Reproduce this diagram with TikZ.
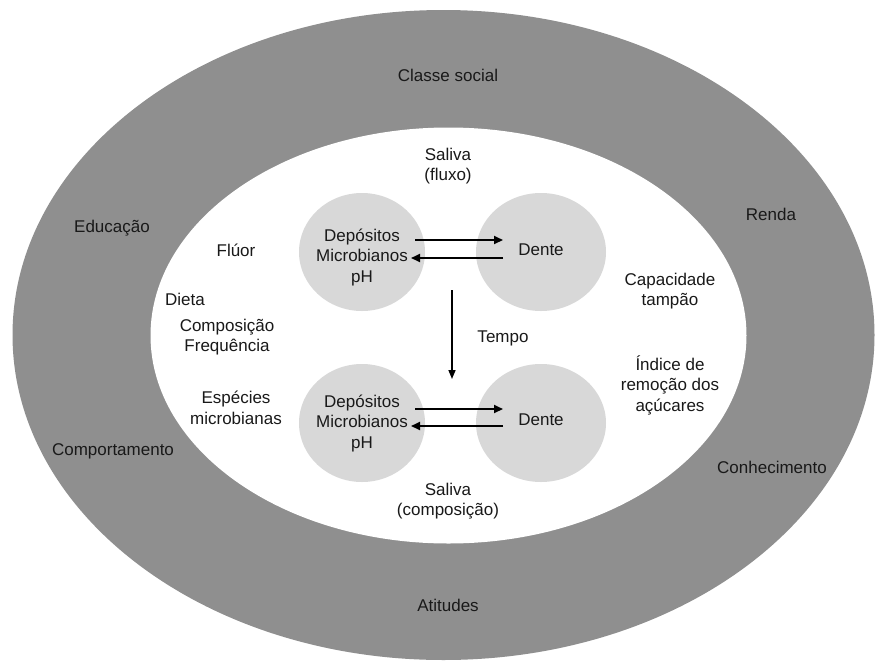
\documentclass[tikz,border=0pt]{standalone}
\usepackage{fontspec}
\setmainfont{Liberation Sans}
\usetikzlibrary{arrows.meta}
\definecolor{outergray}{RGB}{143,143,143}
\definecolor{blobgray}{RGB}{216,216,216}
\definecolor{txt}{RGB}{25,25,25}
\tikzset{
  lbl/.style={text=txt, font=\fontsize{17}{20.5}\selectfont, align=center, inner sep=0pt},
  blob/.style={fill=blobgray, draw=none},
  arr/.style={draw=black, line width=2pt, -{Triangle[length=9pt,width=8pt]}},
  varr/.style={draw=black, line width=1.6pt, -{Triangle[length=9pt,width=7pt]}}
}
\begin{document}
\begin{tikzpicture}[x=1pt,y=-1pt]
\useasboundingbox (0,0) rectangle (876,662);
\fill[white] (0,0) rectangle (876,662);
% rings
\fill[outergray] (443.5,335) ellipse [x radius=431, y radius=325];
\fill[white] (448.5,335.5) ellipse [x radius=298, y radius=208];
% blobs
\fill[blob] (362,252) ellipse [x radius=63, y radius=59];
\fill[blob] (541,252) ellipse [x radius=65, y radius=59];
\fill[blob] (362,423) ellipse [x radius=63, y radius=59];
\fill[blob] (541,423) ellipse [x radius=65, y radius=59];
% outer labels
\node[lbl] (classe) at (448,75) {Classe social};
\node[lbl] (educ) at (112,228) {Educação};
\node[lbl] (renda) at (771,214) {Renda};
\node[lbl] (comp) at (113,451) {Comportamento};
\node[lbl] (conh) at (772,467) {Conhecimento};
\node[lbl] (atit) at (448,605) {Atitudes};
% inner labels
\node[lbl] (saliva1) at (448,166) {Saliva\\(fluxo)};
\node[lbl] (fluor) at (236,250) {Flúor};
\node[lbl] (capac) at (670,291) {Capacidade\\tampão};
\node[lbl] (dieta) at (185,299) {Dieta};
\node[lbl] (compfreq) at (227,337) {Composição\\Frequência};
\node[lbl] (tempo) at (503,338) {Tempo};
\node[lbl] (indice) at (670,385) {Índice de\\remoção dos\\açúcares};
\node[lbl] (especies) at (236,408) {Espécies\\microbianas};
\node[lbl] (saliva2) at (448,501) {Saliva\\(composição)};
% blob texts
\node[lbl] (dep1) at (362,257) {Depósitos\\Microbianos\\pH};
\node[lbl] (dente1) at (541,250) {Dente};
\node[lbl] (dep2) at (362,423) {Depósitos\\Microbianos\\pH};
\node[lbl] (dente2) at (541,420) {Dente};
% arrow anchor points
\coordinate (a1s) at (415,240); \coordinate (a1e) at (503,240);
\coordinate (b1s) at (503,258); \coordinate (b1e) at (411,258);
\coordinate (a2s) at (415,409); \coordinate (a2e) at (503,409);
\coordinate (b2s) at (503,426); \coordinate (b2e) at (411,426);
\coordinate (ts) at (452,290); \coordinate (te) at (452,379);
\draw[arr] (a1s) -- (a1e);
\draw[arr] (b1s) -- (b1e);
\draw[arr] (a2s) -- (a2e);
\draw[arr] (b2s) -- (b2e);
\draw[varr] (ts) -- (te);
\end{tikzpicture}
\end{document}
